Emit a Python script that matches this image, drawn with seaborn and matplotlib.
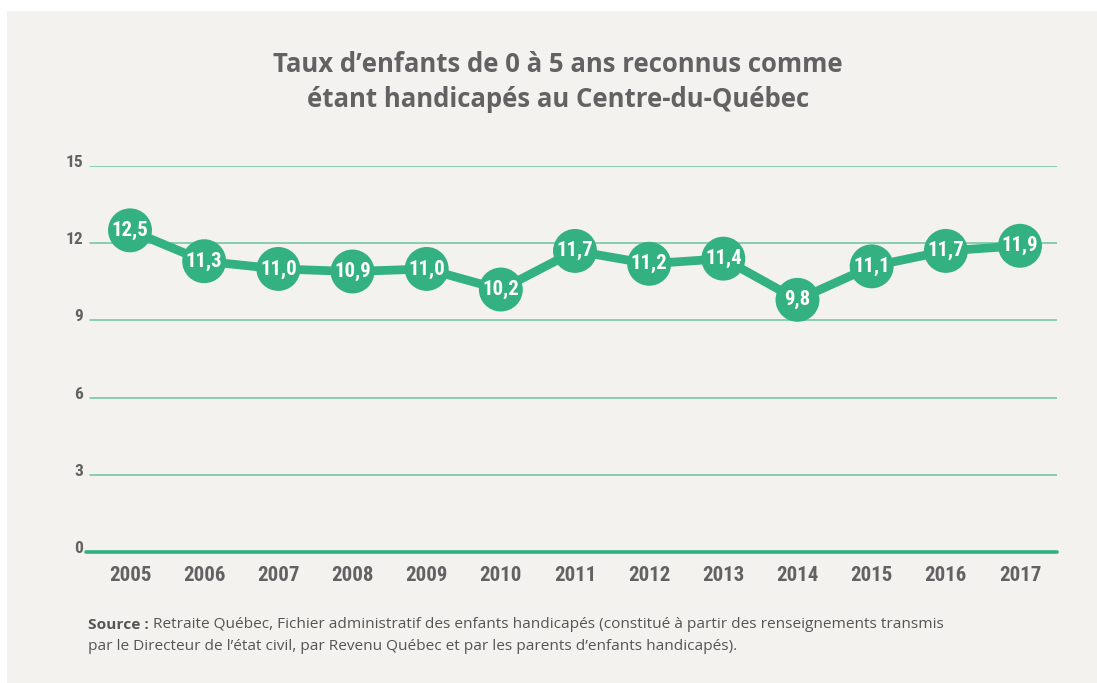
import matplotlib
matplotlib.use("Agg")
import matplotlib.pyplot as plt
import matplotlib.transforms as mtransforms
from matplotlib.patches import Rectangle
import seaborn as sns
import pandas as pd

years = [2005, 2006, 2007, 2008, 2009, 2010, 2011, 2012, 2013, 2014, 2015, 2016, 2017]
rates = [12.5, 11.3, 11.0, 10.9, 11.0, 10.2, 11.7, 11.2, 11.4, 9.8, 11.1, 11.7, 11.9]
y_ticks = [0, 3, 6, 9, 12, 15]

title = "Taux d’enfants de 0 à 5 ans reconnus comme\nétant handicapés au Centre-du-Québec"
source_bold = "Source :"
source_line1 = " Retraite Québec, Fichier administratif des enfants handicapés (constitué à partir des renseignements transmis"
source_line2 = "par le Directeur de l’état civil, par Revenu Québec et par les parents d’enfants handicapés)."

GREEN = "#33b180"
GRID = "#6cc49e"
BG = "#f3f2ee"
TEXT = "#626262"
COND = ["Roboto Condensed", "Roboto", "DejaVu Sans"]
BODY = ["Open Sans", "DejaVu Sans"]

sns.set_theme(style="white")
plt.rcParams["font.family"] = BODY

df = pd.DataFrame({"year": years, "rate": rates})

W, H = 1097, 683
fig = plt.figure(figsize=(W / 100, H / 100), dpi=100)
fig.patch.set_facecolor("white")
fig.patches.append(Rectangle((7 / W, 0), 1 - 7 / W, 1 - 11 / H,
                             transform=fig.transFigure, facecolor=BG,
                             edgecolor="none", zorder=-10))

# axes: x from 86 to 1057 px, y from 166 (15) to 552 (0)
left, right, top, bottom = 86, 1057, 166, 552
ax = fig.add_axes([left / W, 1 - bottom / H, (right - left) / W, (bottom - top) / H])
ax.set_facecolor("none")

px_per_year = (1020 - 130) / 12
ax.set_xlim(2005 - (130 - left) / px_per_year, 2017 + (right - 1020) / px_per_year)
ax.set_ylim(0, 15)

for v in y_ticks[1:]:
    ax.axhline(v, xmin=4 / (right - left), xmax=1, color=GRID, lw=1.1, zorder=1)
ax.axhline(0, color=GREEN, lw=2.6, zorder=2, clip_on=False)

sns.lineplot(data=df, x="year", y="rate", ax=ax, color=GREEN, lw=6.3, zorder=3,
             legend=False)
sns.scatterplot(data=df, x="year", y="rate", ax=ax, color=GREEN, s=1000,
                edgecolor="none", zorder=4, legend=False)

for x, v in zip(years, rates):
    ax.text(x, v, f"{v:.1f}".replace(".", ","), ha="center", va="center",
            color="white", fontsize=15, fontweight="bold", family=COND, zorder=5)

for s in ax.spines.values():
    s.set_visible(False)

ax.set_xticks(years)
ax.set_xticklabels([str(y) for y in years], fontsize=15, fontweight="bold",
                   family=COND, color=TEXT)
ax.set_yticks(y_ticks)
ax.set_yticklabels([str(v) for v in y_ticks], fontsize=12.5, fontweight="bold",
                   family=COND, color=TEXT)
ax.tick_params(axis="x", length=0, pad=10)
ax.tick_params(axis="y", length=0, pad=2)
raise_y = mtransforms.ScaledTranslation(0, 5 / 100, fig.dpi_scale_trans)
for lab in ax.get_yticklabels():
    lab.set_transform(lab.get_transform() + raise_y)
ax.set_xlabel("")
ax.set_ylabel("")

fig.text(558 / W, 1 - 82 / H, title, ha="center", va="center", fontsize=18.5,
         fontweight="bold", color=TEXT, linespacing=1.35)

t1 = fig.text(88 / W, 1 - 625 / H, source_bold, ha="left", va="center",
              fontsize=11.1, fontweight="bold", color="#555555")
fig.canvas.draw()
bb = t1.get_window_extent()
fig.text(bb.x1 / W, 1 - 625 / H, source_line1, ha="left", va="center",
         fontsize=11.1, color="#555555")
fig.text(88 / W, 1 - 647 / H, source_line2, ha="left", va="center",
         fontsize=11.1, color="#555555")

fig.savefig("out.png", dpi=100, facecolor=fig.get_facecolor())
